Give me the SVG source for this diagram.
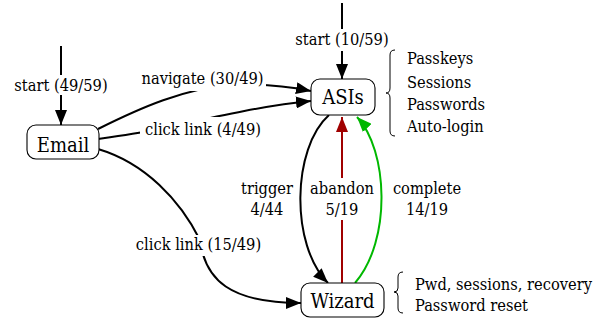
<svg xmlns="http://www.w3.org/2000/svg" width="602" height="321" viewBox="0 0 602 321">
<style>
.node rect{fill:#fff;stroke:#000;stroke-width:1.1}
.nt{font-size:20px;text-anchor:middle;fill:#000}
.lt{font-size:16.3px;fill:#000}
.mid{text-anchor:middle}
.e{fill:none;stroke:#000;stroke-width:2}
.bg{fill:#fff;stroke:none}
.brace{fill:none;stroke:#000;stroke-width:1}
</style>
<defs>
<marker id="ak" markerUnits="userSpaceOnUse" markerWidth="16" markerHeight="12" viewBox="0 0 16 12" refX="15" refY="6" orient="auto"><path d="M0,0 L15,6 L0,12 z" fill="#000"/></marker>
<marker id="ar" markerUnits="userSpaceOnUse" markerWidth="16" markerHeight="12" viewBox="0 0 16 12" refX="15" refY="6" orient="auto"><path d="M0,0 L15,6 L0,12 z" fill="#a00000"/></marker>
<marker id="ag" markerUnits="userSpaceOnUse" markerWidth="16" markerHeight="12" viewBox="0 0 16 12" refX="15" refY="6" orient="auto"><path d="M0,0 L15,6 L0,12 z" fill="#00b800"/></marker>
</defs>
<rect width="602" height="321" fill="#fff"/>
<g font-family="'DejaVu Serif Condensed', 'DejaVu Serif', serif" font-stretch="condensed">
<g id="connectors">
<path class="e" d="M61,46 L61,125" marker-end="url(#ak)"/>
<path class="e" d="M342,3 L342,79" marker-end="url(#ak)"/>
<path class="e" d="M98,129 C140,108 185,88 232,85 C265,83 290,87 311,91" marker-end="url(#ak)"/>
<path class="e" d="M98,139 C125,135 140,133 160,129 C210,118 260,106 311,101" marker-end="url(#ak)"/>
<path class="e" d="M98,149 C145,163 180,200 200,240 C205,280 230,303 301,303" marker-end="url(#ak)"/>
<path class="e" d="M329,115 C292,148 290,245 328,283" marker-end="url(#ak)"/>
<path class="e" d="M342,283 L342,117" style="stroke:#a00000" marker-end="url(#ar)"/>
<path class="e" d="M355,283 C392,240 388,150 357,117" style="stroke:#00b800" marker-end="url(#ag)"/>
<rect class="bg" x="12" y="75" width="99" height="20"/>
<text class="lt mid" x="61" y="91">start (49/59)</text>
<rect class="bg" x="294" y="29" width="96" height="22"/>
<text class="lt mid" x="342" y="45">start (10/59)</text>
<rect class="bg" x="139" y="67" width="127" height="24"/>
<text class="lt mid" x="202.5" y="84">navigate (30/49)</text>
<rect class="bg" x="140" y="117" width="126" height="24"/>
<text class="lt mid" x="203" y="135">click link (4/49)</text>
<rect class="bg" x="131" y="235" width="135" height="21"/>
<text class="lt mid" x="198.5" y="250">click link (15/49)</text>
<text class="lt mid" x="267" y="194">trigger</text>
<text class="lt mid" x="267" y="215">4/44</text>
<rect class="bg" x="310" y="178" width="64" height="42"/>
<text class="lt mid" x="342" y="194">abandon</text>
<text class="lt mid" x="342" y="215">5/19</text>
<text class="lt mid" x="427" y="194">complete</text>
<text class="lt mid" x="427" y="215">14/19</text>
</g>
<g id="Email" class="node">
<rect x="27" y="125" width="72" height="34" rx="9"/>
<text class="nt" x="63" y="152">Email</text>
</g>
<g id="ASIs" class="node">
<rect x="311" y="79" width="64" height="36" rx="9"/>
<text class="nt" x="343" y="104">ASIs</text>
</g>
<g id="Wizard" class="node">
<rect x="301" y="283" width="83" height="34" rx="9"/>
<text class="nt" x="342.5" y="308">Wizard</text>
</g>
<g id="asis-notes">
<path class="brace" d="M395,50 Q390,50 390,55 L390,88 Q390,93 386,93 Q390,93 390,98 L390,131 Q390,136 395,136"/>
<text class="lt" x="407" y="64">Passkeys</text>
<text class="lt" x="407" y="88">Sessions</text>
<text class="lt" x="407" y="110">Passwords</text>
<text class="lt" x="407" y="132">Auto-login</text>
</g>
<g id="wizard-notes">
<path class="brace" d="M403,272 Q398,272 398,277 L398,288 Q398,292 394,292 Q398,292 398,296 L398,308 Q398,313 403,313"/>
<text class="lt" x="415" y="290">Pwd, sessions, recovery</text>
<text class="lt" x="415" y="311">Password reset</text>
</g>
</g>
</svg>
